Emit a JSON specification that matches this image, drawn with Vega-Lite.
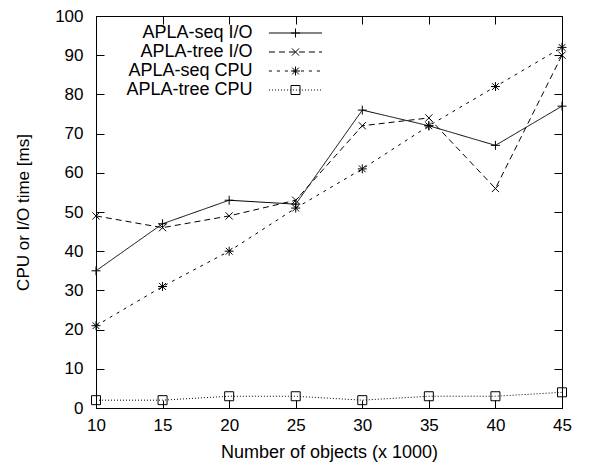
{
  "$schema": "https://vega.github.io/schema/vega-lite/v6.json",
  "width": 466,
  "height": 392,
  "autosize": {"type": "none"},
  "padding": {"left": 96, "top": 16, "right": 45, "bottom": 56},
  "background": "white",
  "config": {
    "font": "Liberation Sans",
    "view": {"stroke": "black", "strokeWidth": 1},
    "axis": {"domainColor": "black", "tickColor": "black", "labelColor": "black", "titleColor": "black", "grid": false, "labelFlush": false, "labelFont": "Liberation Sans", "titleFont": "Liberation Sans", "titleFontWeight": "normal", "labelFontSize": 17, "titleFontSize": 18}
  },
  "data": {
    "values": [
      {"n": 10, "series": "APLA-seq I/O", "v": 35},
      {"n": 15, "series": "APLA-seq I/O", "v": 47},
      {"n": 20, "series": "APLA-seq I/O", "v": 53},
      {"n": 25, "series": "APLA-seq I/O", "v": 52},
      {"n": 30, "series": "APLA-seq I/O", "v": 76},
      {"n": 35, "series": "APLA-seq I/O", "v": 72},
      {"n": 40, "series": "APLA-seq I/O", "v": 67},
      {"n": 45, "series": "APLA-seq I/O", "v": 77},
      {"n": 10, "series": "APLA-tree I/O", "v": 49},
      {"n": 15, "series": "APLA-tree I/O", "v": 46},
      {"n": 20, "series": "APLA-tree I/O", "v": 49},
      {"n": 25, "series": "APLA-tree I/O", "v": 53},
      {"n": 30, "series": "APLA-tree I/O", "v": 72},
      {"n": 35, "series": "APLA-tree I/O", "v": 74},
      {"n": 40, "series": "APLA-tree I/O", "v": 56},
      {"n": 45, "series": "APLA-tree I/O", "v": 90},
      {"n": 10, "series": "APLA-seq CPU", "v": 21},
      {"n": 15, "series": "APLA-seq CPU", "v": 31},
      {"n": 20, "series": "APLA-seq CPU", "v": 40},
      {"n": 25, "series": "APLA-seq CPU", "v": 51},
      {"n": 30, "series": "APLA-seq CPU", "v": 61},
      {"n": 35, "series": "APLA-seq CPU", "v": 72},
      {"n": 40, "series": "APLA-seq CPU", "v": 82},
      {"n": 45, "series": "APLA-seq CPU", "v": 92},
      {"n": 10, "series": "APLA-tree CPU", "v": 2},
      {"n": 15, "series": "APLA-tree CPU", "v": 2},
      {"n": 20, "series": "APLA-tree CPU", "v": 3},
      {"n": 25, "series": "APLA-tree CPU", "v": 3},
      {"n": 30, "series": "APLA-tree CPU", "v": 2},
      {"n": 35, "series": "APLA-tree CPU", "v": 3},
      {"n": 40, "series": "APLA-tree CPU", "v": 3},
      {"n": 45, "series": "APLA-tree CPU", "v": 4}
    ]
  },
  "resolve": {"axis": {"x": "independent", "y": "independent"}},
  "layer": [
    {
      "mark": {"type": "line", "color": "black", "strokeWidth": 1},
      "encoding": {
        "x": {"field": "n", "type": "quantitative", "scale": {"domain": [10, 45], "nice": false},
          "axis": {"title": "Number of objects (x 1000)", "values": [10, 15, 20, 25, 30, 35, 40, 45], "tickSize": -8, "labelPadding": 17, "titlePadding": 10}},
        "y": {"field": "v", "type": "quantitative", "scale": {"domain": [0, 100], "nice": false},
          "axis": {"title": "CPU or I/O time [ms]", "titleFontSize": 17, "values": [0, 10, 20, 30, 40, 50, 60, 70, 80, 90, 100], "tickSize": -8, "labelPadding": 21, "titlePadding": 22}},
        "strokeDash": {"field": "series", "type": "nominal",
          "scale": {"domain": ["APLA-seq I/O", "APLA-tree I/O", "APLA-seq CPU", "APLA-tree CPU"], "range": [[1, 0], [6, 4], [3, 5], [1, 2]]},
          "legend": {"title": null, "orient": "none", "legendX": 190.5, "legendY": 8, "padding": 0, "symbolType": "M-5.9,0L5.9,0", "symbolSize": 81, "symbolStrokeColor": "black", "symbolStrokeWidth": 1, "labelAlign": "right", "labelOffset": -52, "labelFontSize": 18, "labelFont": "Liberation Sans", "labelColor": "black", "rowPadding": 1, "labelLimit": 300}},
        "order": {"field": "n", "type": "quantitative"}
      }
    },
    {
      "mark": {"type": "point", "filled": false, "stroke": "black", "strokeWidth": 1, "size": 81, "opacity": 1},
      "encoding": {
        "x": {"field": "n", "type": "quantitative", "axis": {"orient": "top", "title": null, "labels": false, "values": [10, 15, 20, 25, 30, 35, 40, 45], "tickSize": -8, "domain": false}},
        "y": {"field": "v", "type": "quantitative", "axis": {"orient": "right", "title": null, "labels": false, "values": [0, 10, 20, 30, 40, 50, 60, 70, 80, 90, 100], "tickSize": -8, "domain": false}},
        "shape": {"field": "series", "type": "nominal",
          "sort": ["APLA-seq I/O", "APLA-tree I/O", "APLA-seq CPU", "APLA-tree CPU"],
          "scale": {"range": ["M-1,0L1,0M0,-1L0,1", "M-0.8,-0.8L0.8,0.8M-0.8,0.8L0.8,-0.8", "M-1,0L1,0M0,-1L0,1M-0.75,-0.75L0.75,0.75M-0.75,0.75L0.75,-0.75", "square"]},
          "legend": {"title": null, "orient": "none", "legendX": 190.5, "legendY": 8, "padding": 0, "symbolSize": 81, "symbolFillColor": "transparent", "symbolStrokeColor": "black", "symbolStrokeWidth": 1, "labelOpacity": 0, "labelFontSize": 18, "labelFont": "Liberation Sans", "rowPadding": 1, "labelLimit": 300}}
      }
    }
  ]
}
